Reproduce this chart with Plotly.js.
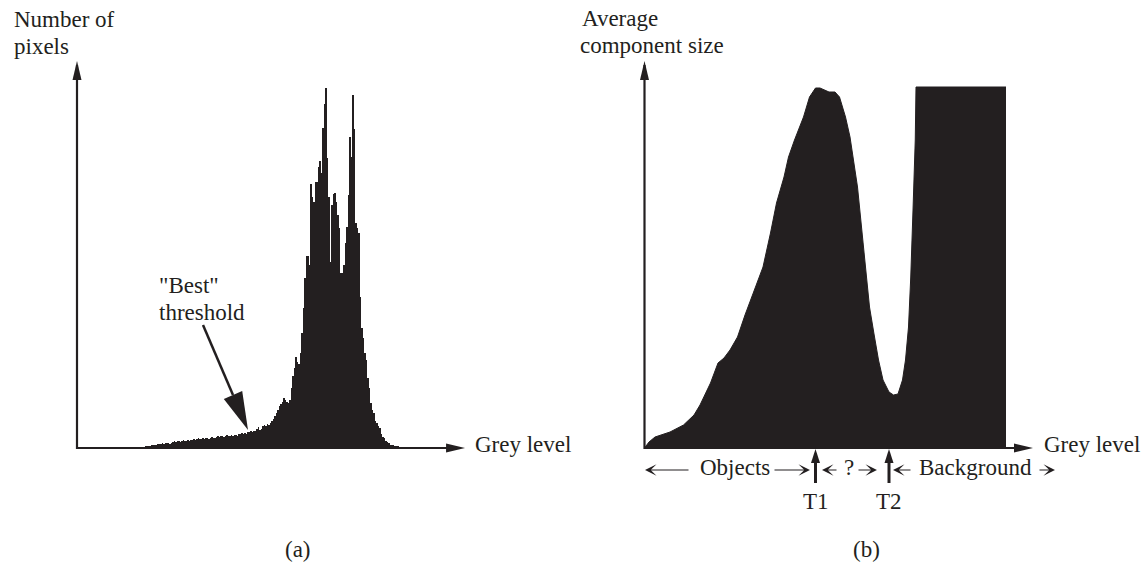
<!DOCTYPE html>
<html><head><meta charset="utf-8">
<script src="https://cdn.plot.ly/plotly-3.0.1.min.js"></script>
<style>html,body{margin:0;padding:0;background:#fff;}#chart{width:1145px;height:569px;}</style>
</head><body><div id="chart"></div>
<script>
// ---------- data ----------
// (a) grey-level histogram
const histGrey = [43,44,45,46,47,48,49,50,51,52,53,54,55,56,57,58,59,60,61,62,63,64,65,66,67,68,69,70,71,72,73,74,75,76,77,78,79,80,81,82,83,84,85,86,87,88,89,90,91,92,93,94,95,96,97,98,99,100,101,102,103,104,105,106,107,108,109,110,111,112,113,114,115,116,117,118,119,120,121,122,123,124,125,126,127,128,129,130,131,132,133,134,135,136,137,138,139,140,141,142,143,144,145,146,147,148,149,150,151,152,153,154,155,156,157,158,159,160,161,162,163,164,165,166,167,168,169,170,171,172,173,174,175,176,177,178,179,180,181,182,183,184,185,186,187,188,189,190,191,192,193,194,195,196,197,198,199,200,201,202,203,204,205,206,207,208,209,210,211,212,213,214,215];
const histCount = [1,1,1,2,2,2,2,3,3,3,
  3,4,4,4,5,4,5,5,5,4,
  5,6,7,6,7,7,6,7,8,7,
  7,8,7,8,8,9,8,9,10,9,
  9,10,9,10,10,9,10,11,10,10,
  11,12,11,12,12,11,12,13,12,12,
  13,12,13,13,12,14,14,15,14,15,
  14,16,16,17,16,17,17,19,21,18,
  19,22,23,22,24,23,25,27,29,32,
  35,38,42,44,46,50,48,46,45,48,
  60,72,80,91,86,84,95,115,140,170,
  192,192,183,264,251,246,266,266,281,287,
  275,320,344,360,290,251,186,243,254,255,
  246,233,220,175,175,183,205,221,253,311,
  291,353,319,225,220,215,151,120,110,95,
  88,70,60,45,38,35,27,25,22,20,
  14,11,10,7,6,5,3,3,3,2,
  2,2,1];
const bestThreshold = 114;

// (b) average component size vs grey level
const sizeGrey  = [0,3,7,17,26,33,37,44,49,53,57,62,67,74,79,84,88,93,96,100,106,110,114,117,123,127,130,134,137,139,142,144,146,148,150,153,156,159,163,166,169,172,174,176,177.5,179,180,180.5,181,241];
const sizeValue = [0,6,11,16,23,33,43,65,85,90,98,111,133,161,181,215,245,271,291,308,331,351,360,360,356,356,351,331,311,291,261,231,201,171,141,114,88,68,56,53,54,68,88,121,171,238,288,308,361,361];
const thresholds = [114, 163];
const thresholdLabels = ['T1', 'T2'];

// ---------- drawing ----------
const W = 1145, H = 569;
const fx = p => p / W;
const fy = p => 1 - p / H;
const INK = '#231f20';
const FAM = 'Liberation Serif, Times New Roman, serif';
const FONT = {family: FAM, size: 23, color: INK};
const X1MAX = 258.7, X2MAX = 259, YMAX = 387;

const traces = [
  {type: 'bar', x: histGrey, y: histCount, width: 1, xaxis: 'x', yaxis: 'y',
   marker: {color: INK, line: {width: 0}}, hoverinfo: 'skip'},
  {type: 'scatter', mode: 'lines', x: sizeGrey, y: sizeValue, xaxis: 'x2', yaxis: 'y2',
   fill: 'tozeroy', fillcolor: INK, line: {color: INK, width: 1}, hoverinfo: 'skip'}
];

function axisShapes(xr, yr, xmax) {
  return [
    {type: 'line', xref: xr, yref: yr, x0: 0, y0: 0, x1: xmax - 4, y1: 0, line: {color: INK, width: 2.2}},
    {type: 'line', xref: xr, yref: yr, x0: 0, y0: -1, x1: 0, y1: YMAX - 4, line: {color: INK, width: 2.2}},
    {type: 'path', xref: xr, yref: yr, xsizemode: 'pixel', ysizemode: 'pixel', xanchor: xmax, yanchor: 0,
     path: 'M0,0 L-19,4.5 L-19,-4.5 Z', fillcolor: INK, line: {width: 0}},
    {type: 'path', xref: xr, yref: yr, xsizemode: 'pixel', ysizemode: 'pixel', xanchor: 0, yanchor: YMAX,
     path: 'M0,0 L-4.5,-19 L4.5,-19 Z', fillcolor: INK, line: {width: 0}}
  ];
}

const bestIdx = histGrey.indexOf(bestThreshold);
const bestY = histCount[bestIdx] + 2;

const shapes = [].concat(
  axisShapes('x', 'y', X1MAX),
  axisShapes('x2', 'y2', X2MAX),
  [
    {type: 'path', xref: 'x', yref: 'y', xsizemode: 'pixel', ysizemode: 'pixel', xanchor: bestThreshold, yanchor: bestY,
     path: 'M-15,35 L-45,105', line: {color: INK, width: 2.5}},
    {type: 'path', xref: 'x', yref: 'y', xsizemode: 'pixel', ysizemode: 'pixel', xanchor: bestThreshold, yanchor: bestY,
     path: 'M0,0 L-5.8,38.9 L-24.2,31.1 Z', fillcolor: INK, line: {width: 0}}
  ]
);
thresholds.forEach(t => {
  shapes.push({type: 'path', xref: 'x2', yref: 'y2', xsizemode: 'pixel', ysizemode: 'pixel', xanchor: t, yanchor: 0,
    path: 'M0,-14 L0,-35', line: {color: INK, width: 3}});
  shapes.push({type: 'path', xref: 'x2', yref: 'y2', xsizemode: 'pixel', ysizemode: 'pixel', xanchor: t, yanchor: 0,
    path: 'M0,-1 L-4.5,-15 L4.5,-15 Z', fillcolor: INK, line: {width: 0}});
});

function txt(text, x, baseline, anchor, size) {
  return {text: text, xref: 'paper', yref: 'paper', x: fx(x), y: fy(baseline - 8),
    xanchor: anchor || 'left', yanchor: 'middle', showarrow: false,
    font: {family: FAM, size: size || 23, color: INK}};
}
function arr(head, tail, y) {
  return {text: '', xref: 'paper', yref: 'paper', x: fx(head), y: fy(y), ax: tail - head, ay: 0,
    showarrow: true, arrowhead: 3, arrowsize: 1.6, arrowwidth: 1.2, arrowcolor: INK};
}

const ROW = 470;
const annotations = [
  txt('Number of', 12, 28), txt('pixels', 12, 55),
  txt('Average', 580, 27), txt('component size', 578, 54),
  txt('Grey level', 473, 452), txt('Grey level', 1042, 452),
  txt('"Best"', 157, 293), txt('threshold', 157, 320),
  txt('Objects', 698, 476), txt('?', 848.5, 476, 'center'), txt('Background', 917, 476),
  txt('(a)', 298, 557, 'center'), txt('(b)', 866, 557, 'center'),
  arr(645, 690, ROW), arr(810, 773, ROW), arr(822, 838, ROW), arr(877, 857, ROW),
  arr(893, 912, ROW), arr(1055, 1038, ROW)
];
thresholds.forEach((t, i) => {
  annotations.push({text: thresholdLabels[i], xref: 'x2', yref: 'paper', x: t, y: fy(509 - 8),
    xanchor: 'center', yanchor: 'middle', showarrow: false, font: FONT});
});

// plot areas padded around the axes so that arrows and axis lines are not clipped
const hidden = {visible: false, fixedrange: true};
const layout = {
  width: W, height: H, margin: {l: 0, r: 0, t: 0, b: 0},
  paper_bgcolor: '#ffffff', plot_bgcolor: 'rgba(0,0,0,0)', showlegend: false, bargap: 0,
  xaxis: Object.assign({domain: [fx(67), fx(470)], range: [-10 / 1.5, 393 / 1.5], anchor: 'y'}, hidden),
  yaxis: Object.assign({domain: [fy(490), fy(56)], range: [-42, 392], anchor: 'x'}, hidden),
  xaxis2: Object.assign({domain: [fx(634.5), fx(1040)], range: [-10 / 1.5, 395.5 / 1.5], anchor: 'y2'}, hidden),
  yaxis2: Object.assign({domain: [fy(490), fy(56)], range: [-42, 392], anchor: 'x2'}, hidden),
  shapes: shapes, annotations: annotations
};

Plotly.newPlot('chart', traces, layout, {displayModeBar: false, staticPlot: true});
</script></body></html>
